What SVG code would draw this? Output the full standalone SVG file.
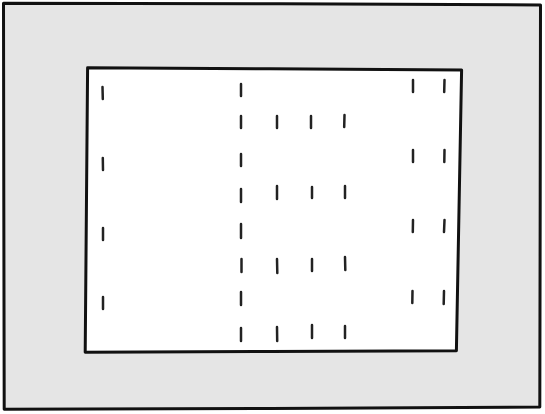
<svg xmlns="http://www.w3.org/2000/svg" width="545" height="414" viewBox="0 0 545 414">
<style>
.frame{stroke:#111;stroke-width:3;stroke-linejoin:round}
.m{stroke:#222;stroke-width:2.5;stroke-linecap:round}
</style>
<rect width="545" height="414" fill="#fff"/>
<g id="outer">
<path class="frame" fill="#e5e5e5" d="M3.5,3.3 L280,3.8 L540.5,5 L540.2,200 L539.8,407 L270,408.5 L4.2,409.3 L3.8,200 Z"/>
</g>
<g id="inner">
<path class="frame" fill="#fff" d="M87.6,67.7 L270,68.8 L461.6,70 L459,210 L456.4,350.7 L270,351.5 L85.2,352.3 L86.4,210 Z"/>
</g>
<g id="marks">
<line class="m" x1="102.5" y1="87" x2="102.8" y2="99"/>
<line class="m" x1="241" y1="84" x2="241" y2="96"/>
<line class="m" x1="413" y1="80" x2="413" y2="92"/>
<line class="m" x1="444.5" y1="80" x2="444.2" y2="92"/>

<line class="m" x1="241" y1="116" x2="241" y2="128"/>
<line class="m" x1="277" y1="116" x2="277" y2="128"/>
<line class="m" x1="311" y1="116" x2="311" y2="128"/>
<line class="m" x1="344.5" y1="115" x2="344.2" y2="127"/>

<line class="m" x1="102.8" y1="158" x2="103" y2="170"/>
<line class="m" x1="241" y1="154" x2="241" y2="166"/>
<line class="m" x1="413" y1="150" x2="413" y2="162"/>
<line class="m" x1="444.5" y1="150" x2="444.3" y2="162"/>

<line class="m" x1="241" y1="189" x2="241" y2="202"/>
<line class="m" x1="277" y1="186" x2="277" y2="199"/>
<line class="m" x1="312" y1="187" x2="312" y2="198"/>
<line class="m" x1="345" y1="186" x2="345" y2="198"/>

<line class="m" x1="103" y1="228" x2="103" y2="240"/>
<line class="m" x1="241" y1="224" x2="241" y2="238"/>
<line class="m" x1="413" y1="220" x2="412.8" y2="232"/>
<line class="m" x1="444.5" y1="220" x2="444" y2="232"/>

<line class="m" x1="241.5" y1="259" x2="241.5" y2="272"/>
<line class="m" x1="277" y1="259" x2="277.3" y2="273"/>
<line class="m" x1="312" y1="259" x2="312" y2="271"/>
<line class="m" x1="345" y1="257" x2="345.3" y2="270"/>

<line class="m" x1="103" y1="297" x2="103" y2="309"/>
<line class="m" x1="241" y1="292" x2="241" y2="305"/>
<line class="m" x1="412.5" y1="291" x2="412.3" y2="303"/>
<line class="m" x1="444" y1="291" x2="443.7" y2="304"/>

<line class="m" x1="241" y1="328" x2="241" y2="341"/>
<line class="m" x1="277" y1="327" x2="277.2" y2="341"/>
<line class="m" x1="312" y1="325" x2="312" y2="338"/>
<line class="m" x1="345" y1="326" x2="345" y2="338"/>
</g>
</svg>
